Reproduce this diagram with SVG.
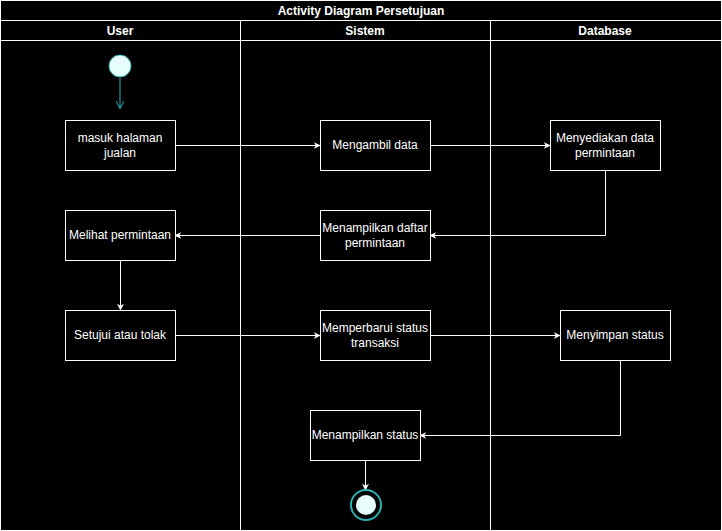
<svg xmlns="http://www.w3.org/2000/svg" width="722" height="531" viewBox="0 0 722 531">
<style>
.lane{fill:#000;stroke:#fff;stroke-width:1}
.hd{font-family:"Liberation Sans",Arial,sans-serif;font-size:12px;font-weight:bold;fill:#fff;text-anchor:middle}
.box{fill:#000;stroke:#fff;stroke-width:1}
.t{font-family:"Liberation Sans",Arial,sans-serif;font-size:12px;fill:#fff;text-anchor:middle}
.c{fill:none;stroke:#fff;stroke-width:1}
</style>
<defs>
<marker id="a" viewBox="0 0 10 10" refX="9" refY="5" markerWidth="7" markerHeight="7" orient="auto" markerUnits="userSpaceOnUse"><path d="M0,0 L10,5 L0,10 L3,5 Z" fill="#fff"/></marker>
<marker id="at" viewBox="0 0 10 10" refX="9" refY="5" markerWidth="8" markerHeight="8" orient="auto" markerUnits="userSpaceOnUse"><path d="M0,0 L10,5 L0,10" fill="none" stroke="#2bb3b3" stroke-width="1.2"/></marker>
</defs>
<rect x="0" y="0" width="722" height="531" fill="#000"/>
<g id="pool">
<rect class="lane" x="0.5" y="0.5" width="721" height="530"/>
<line class="c" x1="0.5" y1="20.5" x2="721.5" y2="20.5"/>
<line class="c" x1="0.5" y1="40.5" x2="721.5" y2="40.5"/>
<line class="c" x1="240.5" y1="20.5" x2="240.5" y2="530.5"/>
<line class="c" x1="490.5" y1="20.5" x2="490.5" y2="530.5"/>
<text class="hd" x="361" y="15">Activity Diagram Persetujuan</text>
<text class="hd" x="120" y="35">User</text>
<text class="hd" x="365" y="35">Sistem</text>
<text class="hd" x="605" y="35">Database</text>
</g>
<g id="connectors">
<line x1="120" y1="78" x2="120" y2="108" stroke="#2bb3b3" stroke-width="1" marker-end="url(#at)"/>
<line class="c" x1="175" y1="145.5" x2="320" y2="145.5" marker-end="url(#a)"/>
<line class="c" x1="430" y1="145.5" x2="550" y2="145.5" marker-end="url(#a)"/>
<polyline class="c" points="605.5,170 605.5,235.5 430,235.5" marker-end="url(#a)"/>
<line class="c" x1="320" y1="235.5" x2="175" y2="235.5" marker-end="url(#a)"/>
<line class="c" x1="120.5" y1="260" x2="120.5" y2="310" marker-end="url(#a)"/>
<line class="c" x1="175" y1="335.5" x2="320" y2="335.5" marker-end="url(#a)"/>
<line class="c" x1="430" y1="335.5" x2="560" y2="335.5" marker-end="url(#a)"/>
<polyline class="c" points="620.5,360 620.5,435.5 420,435.5" marker-end="url(#a)"/>
<line class="c" x1="365.5" y1="460" x2="365.5" y2="490" marker-end="url(#a)"/>
</g>
<g id="start"><circle cx="120" cy="66" r="11" fill="#e6fffc" stroke="#2bb3b3" stroke-width="1"/></g>
<g id="n1"><rect class="box" x="65.5" y="120.5" width="110" height="50"/><text class="t" x="120" y="142">masuk halaman</text><text class="t" x="120" y="157">jualan</text></g>
<g id="n2"><rect class="box" x="320.5" y="120.5" width="110" height="50"/><text class="t" x="375" y="149">Mengambil data</text></g>
<g id="n3"><rect class="box" x="550.5" y="120.5" width="110" height="50"/><text class="t" x="605" y="142">Menyediakan data</text><text class="t" x="605" y="157">permintaan</text></g>
<g id="n4"><rect class="box" x="320.5" y="210.5" width="110" height="50"/><text class="t" x="375" y="232">Menampilkan daftar</text><text class="t" x="375" y="247">permintaan</text></g>
<g id="n5"><rect class="box" x="65.5" y="210.5" width="110" height="50"/><text class="t" x="120" y="239">Melihat permintaan</text></g>
<g id="n6"><rect class="box" x="65.5" y="310.5" width="110" height="50"/><text class="t" x="120" y="339">Setujui atau tolak</text></g>
<g id="n7"><rect class="box" x="320.5" y="310.5" width="110" height="50"/><text class="t" x="375" y="332">Memperbarui status</text><text class="t" x="375" y="347">transaksi</text></g>
<g id="n8"><rect class="box" x="560.5" y="310.5" width="110" height="50"/><text class="t" x="615" y="339">Menyimpan status</text></g>
<g id="n9"><rect class="box" x="310.5" y="410.5" width="110" height="50"/><text class="t" x="365" y="439">Menampilkan status</text></g>
<g id="end"><circle cx="366" cy="505" r="15" fill="#000" stroke="#2bb3b3" stroke-width="2"/><circle cx="366" cy="505" r="10" fill="#e6fffc"/></g>
</svg>
